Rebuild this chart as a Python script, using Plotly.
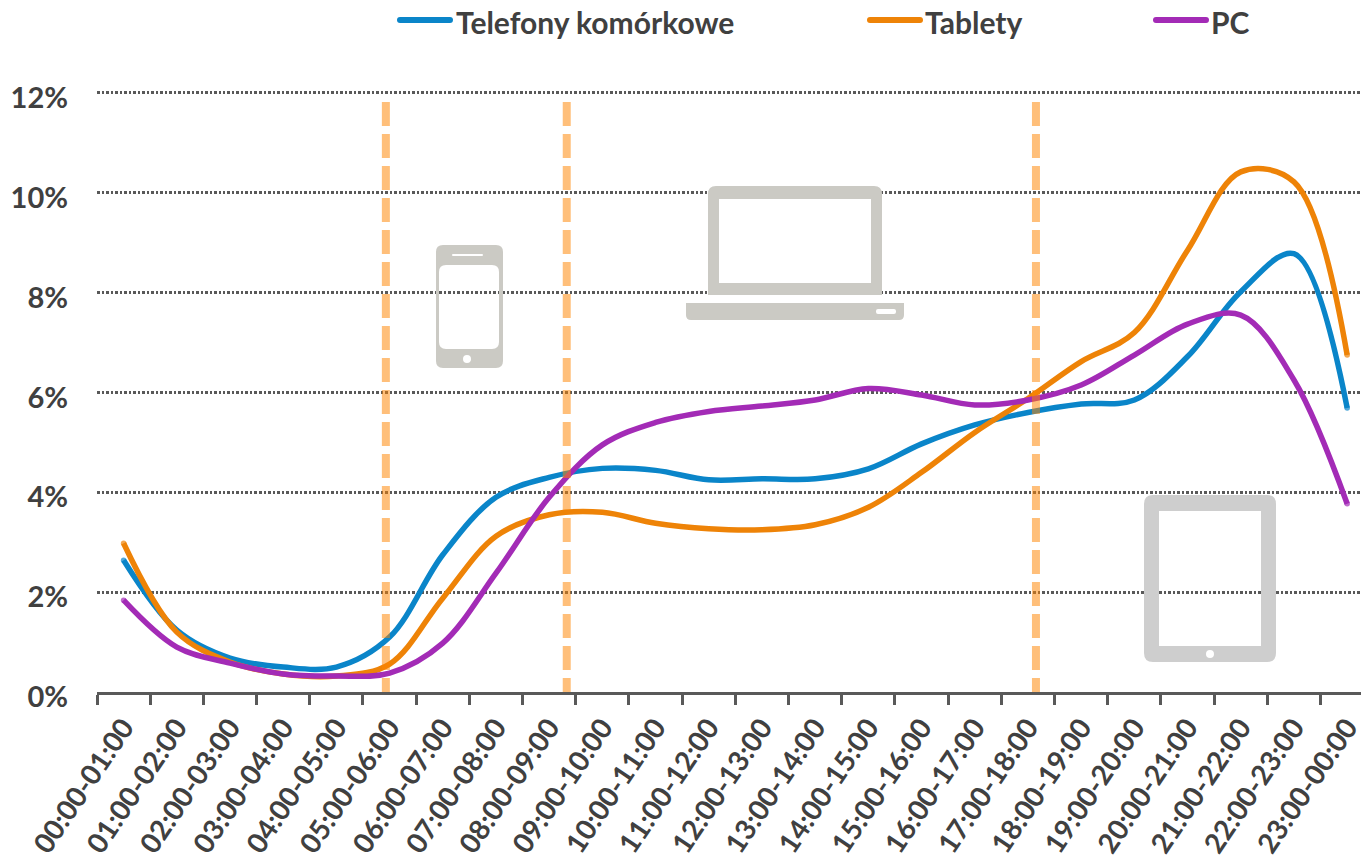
import plotly.graph_objects as go

hours = ["00:00-01:00","01:00-02:00","02:00-03:00","03:00-04:00","04:00-05:00","05:00-06:00",
         "06:00-07:00","07:00-08:00","08:00-09:00","09:00-10:00","10:00-11:00","11:00-12:00",
         "12:00-13:00","13:00-14:00","14:00-15:00","15:00-16:00","16:00-17:00","17:00-18:00",
         "18:00-19:00","19:00-20:00","20:00-21:00","21:00-22:00","22:00-23:00","23:00-00:00"]
telefony = [2.64,1.24,0.68,0.5,0.5,1.1,2.75,3.9,4.3,4.48,4.44,4.25,4.27,4.27,4.47,4.97,5.35,5.6,5.77,5.85,6.72,8.02,8.78,5.69]
tablety = [2.98,1.2,0.6,0.36,0.32,0.56,1.88,3.12,3.55,3.6,3.38,3.27,3.25,3.35,3.7,4.4,5.2,5.88,6.62,7.2,8.85,10.42,10.22,6.75]
pc = [1.84,0.9,0.58,0.36,0.32,0.38,0.98,2.38,3.9,4.95,5.4,5.62,5.73,5.85,6.08,5.95,5.75,5.85,6.15,6.75,7.37,7.55,6.25,3.77]
markers = [4.93, 8.33, 17.15]
yticks = [0,2,4,6,8,10,12]

W, H = 1361, 862
L, R, T, B = 97, 1361, 83, 692
YMAX = 12.2
TEXT = "#404040"
FONT = "Lato"

def px(x): return (x - L) / (R - L)
def py(y): return (B - y) / (B - T)
def pth(cmds):
    out = []
    for c in cmds:
        if isinstance(c, str):
            out.append(c)
        else:
            out.append(f"{px(c[0]):.5f},{py(c[1]):.5f}")
    return " ".join(out)
def rect(x0, y0, x1, y1):
    return ["M", (x0, y0), "L", (x1, y0), "L", (x1, y1), "L", (x0, y1), "Z"]
def rrect(x0, y0, x1, y1, r):
    return ["M", (x0 + r, y0), "L", (x1 - r, y0), "Q", (x1, y0), (x1, y0 + r),
            "L", (x1, y1 - r), "Q", (x1, y1), (x1 - r, y1),
            "L", (x0 + r, y1), "Q", (x0, y1), (x0, y1 - r),
            "L", (x0, y0 + r), "Q", (x0, y0), (x0 + r, y0), "Z"]
def circ(cx, cy, r):
    return rrect(cx - r, cy - r, cx + r, cy + r, r)

series = [("Telefony komórkowe", telefony, "#0A85C9", 397, 454),
          ("Tablety", tablety, "#EE8307", 867, 923),
          ("PC", pc, "#A32BB6", 1153, 1209)]

fig = go.Figure()
shapes, annots = [], []
for name, vals, col, kx, tx in series:
    fig.add_trace(go.Scatter(x=hours, y=vals, name=name, mode="lines+markers", showlegend=False,
                             line=dict(color=col, width=5.5, shape="spline", smoothing=1.0),
                             marker=dict(color=col, size=[5.5] + [0] * 22 + [5.5], line_width=0)))
    shapes.append(dict(type="path", xref="paper", yref="paper", layer="above", fillcolor=col, line_width=0,
                       path=pth(rrect(kx, 17, kx + 56, 23, 3))))
    annots.append(dict(text=name, xref="paper", yref="paper", x=px(tx), y=py(22), xanchor="left", yanchor="middle",
                       showarrow=False, font=dict(family=FONT, size=30, color=TEXT, weight="bold")))

# white masks that break the gridlines behind the icons
for x0, y0, x1, y1 in [(662, 170, 902, 330), (400, 240, 533, 372), (1124, 560, 1294, 620)]:
    shapes.append(dict(type="rect", xref="paper", yref="paper", x0=px(x0), x1=px(x1), y0=py(y1), y1=py(y0),
                       fillcolor="white", line_width=0, layer="between"))
# vertical dashed markers
for m in markers:
    shapes.append(dict(type="line", xref="x", yref="paper", x0=m, x1=m, y0=py(102), y1=0,
                       line=dict(color="rgba(255,133,0,0.52)", width=8, dash="24px,8px"), layer="above"))
# laptop
shapes.append(dict(type="path", xref="paper", yref="paper", fillrule="evenodd", layer="above",
                   path=pth(["M", (708, 295), "L", (708, 194), "Q", (708, 186), (716, 186), "L", (874, 186),
                             "Q", (882, 186), (882, 194), "L", (882, 295), "Z"] + rect(719, 199, 871, 283)),
                   fillcolor="#CBCAC4", line_width=0))
shapes.append(dict(type="path", xref="paper", yref="paper", fillrule="evenodd", layer="above",
                   path=pth(["M", (686, 303), "L", (904, 303), "L", (904, 315), "Q", (904, 320), (899, 320),
                             "L", (691, 320), "Q", (686, 320), (686, 315), "Z"] + rrect(876, 309, 896, 314, 2)),
                   fillcolor="#CBCAC4", line_width=0))
# phone
shapes.append(dict(type="path", xref="paper", yref="paper", fillrule="evenodd", layer="above",
                   path=pth(rrect(436, 245, 503, 368, 7) + rrect(439, 265, 499, 349, 7)
                            + rrect(452, 254, 483, 256, 1) + circ(467, 359, 4)),
                   fillcolor="#CBCAC4", line_width=0))
# tablet
shapes.append(dict(type="path", xref="paper", yref="paper", fillrule="evenodd", layer="above",
                   path=pth(rrect(1144, 495, 1276, 662, 9) + rect(1159, 511, 1261, 646) + circ(1210, 654, 4)),
                   fillcolor="#CECECE", line_width=0))

fig.update_layout(
    width=W, height=H,
    margin=dict(l=L, r=W - R, t=T, b=H - B, pad=0, autoexpand=False),
    plot_bgcolor="white", paper_bgcolor="white", showlegend=False, hovermode=False,
    font=dict(family=FONT, size=29, color=TEXT, weight="bold"),
    shapes=shapes, annotations=annots,
    xaxis=dict(type="category", range=[-0.5, 23.26], tickson="boundaries", ticks="outside", ticklen=10,
               tickwidth=2.5, tickcolor="#595959", showline=True, linecolor="#595959", linewidth=2.5,
               showgrid=False, zeroline=False, tickangle=-56, automargin=False, ticklabelstandoff=5,
               ticklabelshift=0,
               tickfont=dict(family=FONT, size=28, color=TEXT, weight="bold"), tickvals=hours, ticktext=hours),
    yaxis=dict(range=[0, YMAX], tickvals=yticks, ticktext=[f"{v}%" for v in yticks], ticks="",
               showgrid=True, gridcolor="#595959", gridwidth=2.5, griddash="2.5px,2px", zeroline=False,
               showline=False, ticklabelstandoff=28, ticklabelshift=5, automargin=False,
               tickfont=dict(family=FONT, size=29, color=TEXT, weight="bold")),
)
fig.write_html("out.html", post_script="document.body.style.margin='0';", config=dict(displayModeBar=False))
